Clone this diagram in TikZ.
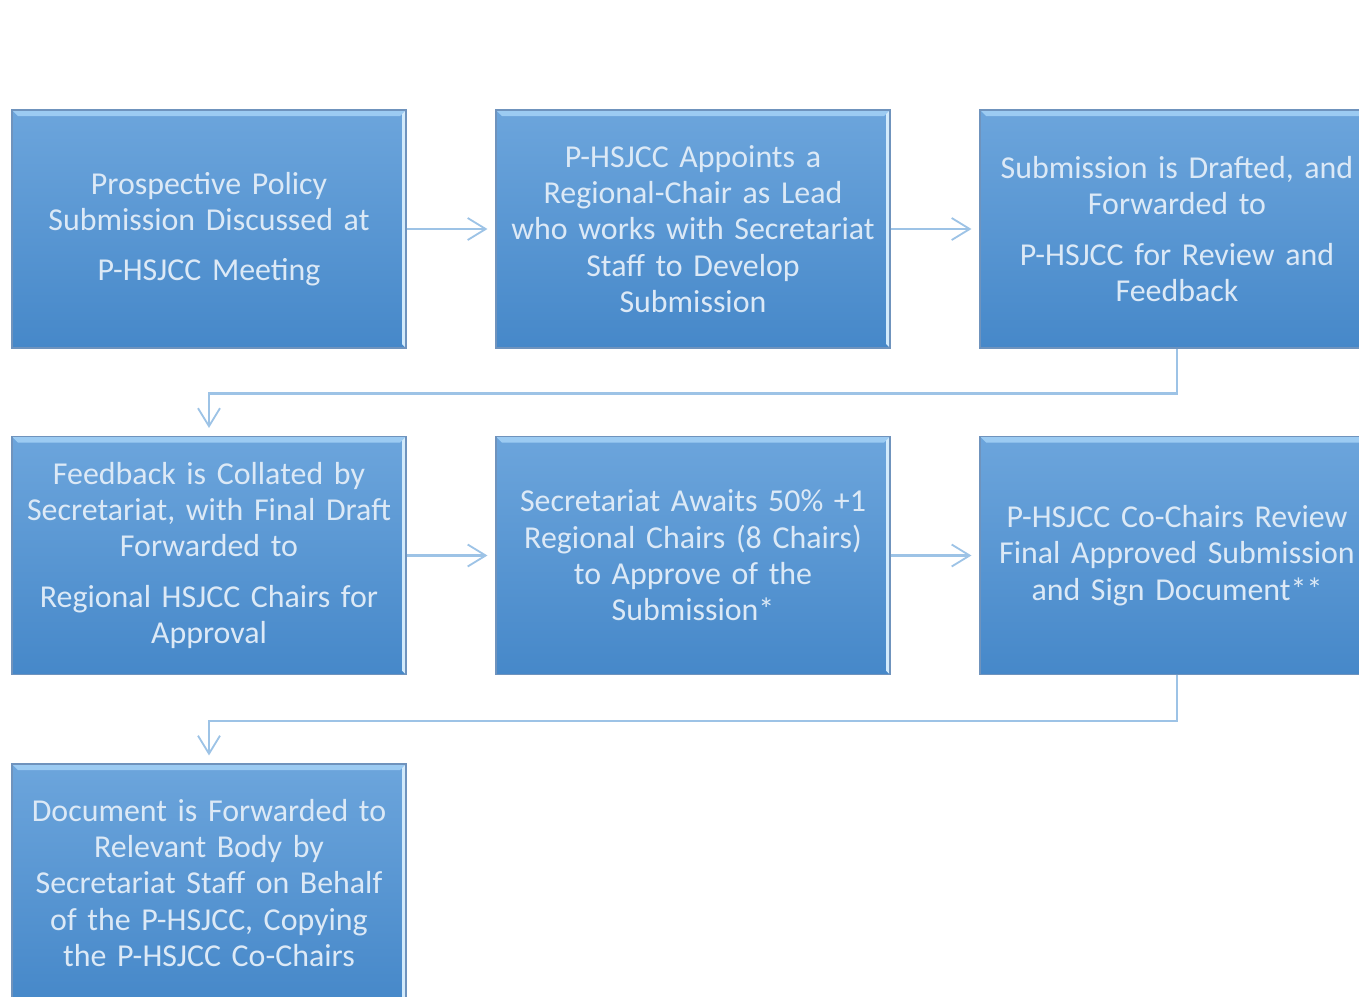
\documentclass[tikz,border=0pt]{standalone}
\usepackage{fontspec}
\setmainfont{Carlito}[WordSpace=0.75]
\usepackage{tikz}
\usetikzlibrary{arrows.meta, positioning}

\definecolor{boxtop}{HTML}{6CA5DC}
\definecolor{boxbot}{HTML}{4688C9}
\definecolor{boxedge}{HTML}{6F93BD}
\definecolor{bevlight}{HTML}{9CCBF2}
\definecolor{bevside}{HTML}{D2EAFB}
\definecolor{flowblue}{HTML}{9DC3E6}
\definecolor{boxtext}{HTML}{DCE9F6}

\begin{document}
\begin{tikzpicture}[
                stepbox/.style={rectangle, draw=boxedge, line width=0.8pt, top color=boxtop, bottom color=boxbot,
                    minimum width=9.85cm, minimum height=5.95cm, text width=9.6cm, align=center, text=boxtext,
                    font=\fontsize{22.7}{25.8}\selectfont,
                    path picture={
                        \fill[bevlight] (path picture bounding box.north west) -- (path picture bounding box.north east)
                            -- ([shift={(-0.15,-0.15)}]path picture bounding box.north east)
                            -- ([shift={(0.15,-0.15)}]path picture bounding box.north west) -- cycle;
                        \fill[bevside] (path picture bounding box.north east) -- (path picture bounding box.south east)
                            -- ([shift={(-0.1,0.1)}]path picture bounding box.south east)
                            -- ([shift={(-0.1,-0.1)}]path picture bounding box.north east) -- cycle;
                    }},
                flow/.style={draw=flowblue, line width=1.6pt, shorten >=0.2cm,
                    -{Straight Barb[length=0.45cm, width=0.55cm, line width=1.3pt]}}
            ]
                \useasboundingbox (0,0) rectangle (33.975,-24.9);
                \clip (0,0) rectangle (33.975,-24.9);

                % first row
                \node[stepbox] (prospect) at (5.225,-5.725) {Prospective Policy\\ Submission Discussed at\\[10pt] P-HSJCC Meeting};
                \node[stepbox] (appoint) at (17.325,-5.725) {P-HSJCC Appoints a\\ Regional-Chair as Lead\\ who works with Secretariat\\ Staff to Develop\\ Submission};
                \node[stepbox] (draft) at (29.425,-5.725) {Submission is Drafted, and\\ Forwarded to\\[10pt] P-HSJCC for Review and\\ Feedback};

                % second row
                \node[stepbox] (collate) at (5.225,-13.8875) {Feedback is Collated by\\ Secretariat, with Final Draft\\ Forwarded to\\[10pt] Regional HSJCC Chairs for\\ Approval};
                \node[stepbox] (await) at (17.325,-13.8875) {Secretariat Awaits 50\% +1\\ Regional Chairs (8 Chairs)\\ to Approve of the\\ Submission*};
                \node[stepbox] (sign) at (29.425,-13.8875) {P-HSJCC Co-Chairs Review\\ Final Approved Submission\\ and Sign Document**};

                % last row
                \node[stepbox] (forward) at (5.225,-22.075) {Document is Forwarded to\\ Relevant Body by\\ Secretariat Staff on Behalf\\ of the P-HSJCC, Copying\\ the P-HSJCC Co-Chairs};

                \draw[flow] (prospect) -- (appoint);
                \draw[flow] (appoint) -- (draft);
                \draw[flow] (draft.south) -- ++(0,-1.125) -| (collate.north);
                \draw[flow] (collate) -- (await);
                \draw[flow] (await) -- (sign);
                \draw[flow] (sign.south) -- ++(0,-1.15) -| (forward.north);
            \end{tikzpicture}
\end{document}
